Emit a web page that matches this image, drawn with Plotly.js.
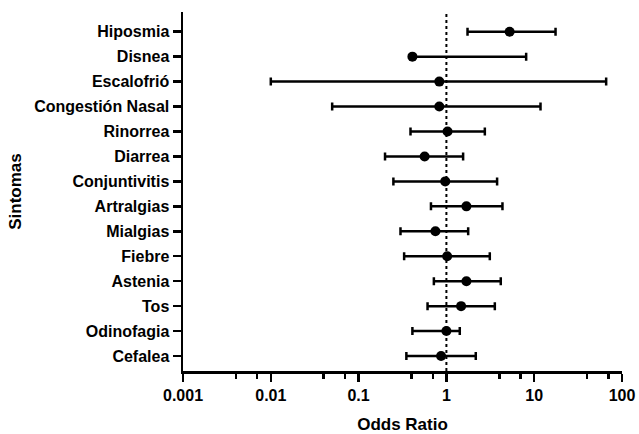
<!DOCTYPE html>
<html>
<head>
<meta charset="utf-8">
<script src="https://cdn.plot.ly/plotly-3.0.1.min.js"></script>
<style>html,body{margin:0;padding:0;background:#fff;}#chart{width:639px;height:434px;}</style>
</head>
<body>
<div id="chart"></div>
<script>
const symptoms = ["Hiposmia","Disnea","Escalofrió","Congestión Nasal","Rinorrea","Diarrea","Conjuntivitis","Artralgias","Mialgias","Fiebre","Astenia","Tos","Odinofagia","Cefalea"];
const oddsRatio = [5.25, 0.41, 0.83, 0.83, 1.03, 0.565, 0.97, 1.69, 0.75, 1.02, 1.69, 1.47, 1.0, 0.87];
const ciLow =     [1.74, 0.40, 0.010, 0.050, 0.39, 0.20, 0.249, 0.667, 0.30, 0.33, 0.72, 0.61, 0.41, 0.35];
const ciHigh =    [17.5, 8.1, 66, 11.8, 2.74, 1.55, 3.78, 4.35, 1.77, 3.12, 4.16, 3.56, 1.42, 2.16];
const majorTicks = [0.001, 0.01, 0.1, 1, 10, 100];
const majorTickText = ["0.001", "0.01", "0.1", "1", "10", "100"];
const minorTicks = [0.004, 0.007, 0.04, 0.07, 0.4, 0.7, 4, 7, 40, 70];

const fam = "Liberation Sans, Arial, sans-serif";
const tickFont = {family: fam, size: 16, weight: "bold", color: "#000"};
const titleFont = {family: fam, size: 17, weight: "bold", color: "#000"};

const trace = {
  type: "scatter",
  mode: "markers",
  x: oddsRatio,
  y: symptoms,
  marker: {color: "#000", size: 10},
  error_x: {
    type: "data",
    symmetric: false,
    array: ciHigh.map((h, i) => h - oddsRatio[i]),
    arrayminus: ciLow.map((l, i) => oddsRatio[i] - l),
    color: "#000",
    thickness: 2.5,
    width: 4
  },
  hoverinfo: "x+y",
  showlegend: false
};

const layout = {
  width: 639,
  height: 434,
  margin: {l: 183, r: 17, t: 12, b: 63},
  paper_bgcolor: "#fff",
  plot_bgcolor: "#fff",
  font: tickFont,
  xaxis: {
    type: "log",
    range: [-3, 2],
    tickvals: majorTicks,
    ticktext: majorTickText,
    ticks: "outside",
    ticklen: 8,
    tickwidth: 2.5,
    tickcolor: "#000",
    showline: true,
    linewidth: 2.5,
    linecolor: "#000",
    showgrid: false,
    zeroline: false,
    tickfont: tickFont,
    minor: {tickvals: minorTicks, ticks: "outside", ticklen: 5, tickwidth: 2.5, tickcolor: "#000", showgrid: false},
    title: {text: "Odds Ratio", font: titleFont, standoff: 20}
  },
  yaxis: {
    type: "category",
    categoryorder: "array",
    categoryarray: symptoms,
    range: [13.6, -0.79],
    ticks: "outside",
    ticklen: 8,
    tickwidth: 2.5,
    tickcolor: "#000",
    showline: true,
    linewidth: 2.5,
    linecolor: "#000",
    showgrid: false,
    zeroline: false,
    tickfont: tickFont,
    title: {text: "Sintomas", font: titleFont, standoff: 8}
  },
  shapes: [{
    type: "line", xref: "x", yref: "paper",
    x0: 1, x1: 1, y0: 0, y1: 1,
    line: {color: "#000", width: 2, dash: "dot"},
    layer: "below"
  }]
};

Plotly.newPlot("chart", [trace], layout, {displayModeBar: false, staticPlot: true});
</script>
</body>
</html>
